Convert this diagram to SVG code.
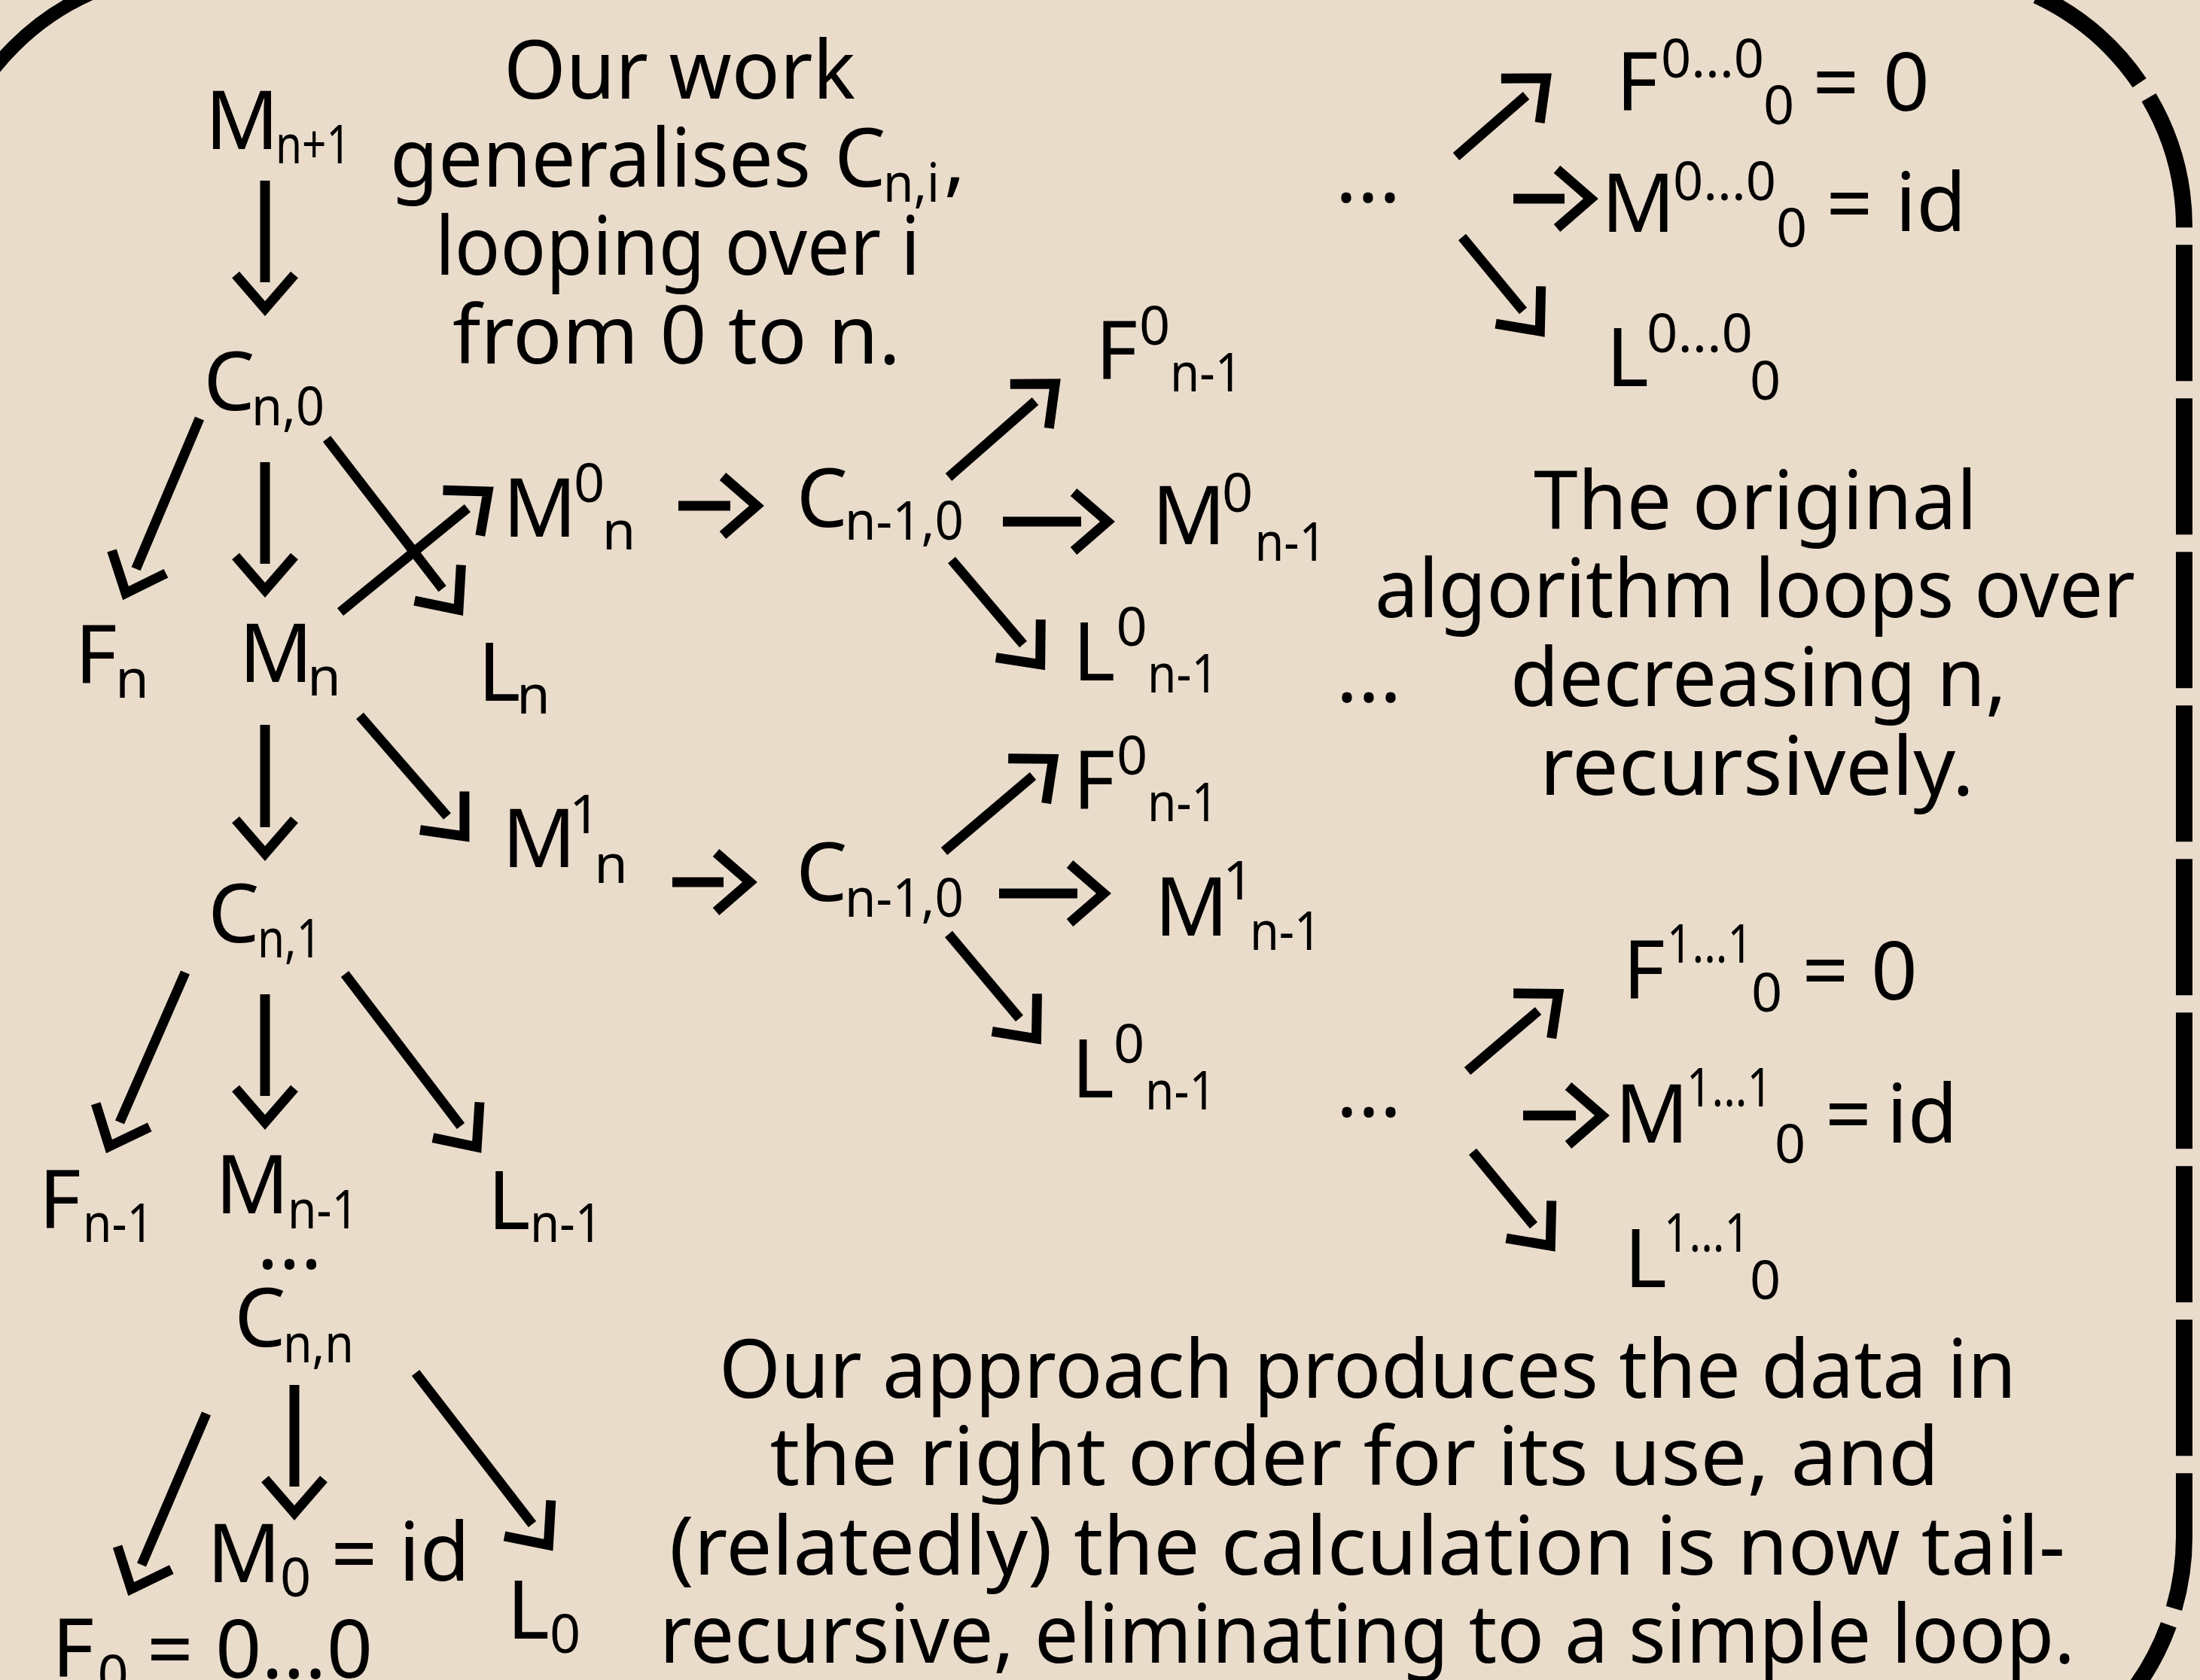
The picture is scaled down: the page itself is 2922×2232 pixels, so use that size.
<svg xmlns="http://www.w3.org/2000/svg" width="2922" height="2232" viewBox="0 0 2922 2232">
<style>
text{font-family:'Noto Sans',sans-serif;fill:#000;text-anchor:middle}
.b{font-size:108px}
.s{font-size:72px}
#connectors line{stroke:#000;stroke-width:13;fill:none;marker-end:url(#ah)}
.fr{fill:none;stroke:#000}
</style>
<defs>
<marker id="ah" markerUnits="userSpaceOnUse" viewBox="-60 -60 120 120" markerWidth="120" markerHeight="120" refX="0" refY="0" orient="auto" style="overflow:visible">
<path d="M-10,-39 L35,0 L-10,39" fill="none" stroke="#000" stroke-width="13"/>
</marker>
</defs>
<rect x="0" y="0" width="2922" height="2232" fill="#EADCCB"/>
<g id="frame">
<path class="fr" stroke-width="18" d="M-81,302 A340,340 0 0 1 259,-38"/>
<path class="fr" stroke-width="22" stroke-dasharray="181 23" stroke-dashoffset="55" d="M2561,-38 A340,340 0 0 1 2901,302 L2901,2042 A340,340 0 0 1 2561,2382"/>
</g>
<g id="connectors">
<line x1="352" y1="240" x2="352" y2="375"/>
<line x1="265" y1="556" x2="180.6" y2="755.8"/>
<line x1="352" y1="614" x2="352" y2="749"/>
<line x1="434" y1="583" x2="587.6" y2="782.3"/>
<line x1="452" y1="813" x2="620.9" y2="675.1"/>
<line x1="352" y1="963" x2="352" y2="1099"/>
<line x1="478" y1="951" x2="594" y2="1084.6"/>
<line x1="246" y1="1292" x2="159" y2="1491"/>
<line x1="352" y1="1321" x2="352" y2="1456"/>
<line x1="458" y1="1294" x2="612" y2="1496"/>
<line x1="274" y1="1878" x2="188" y2="2079"/>
<line x1="391" y1="1840" x2="391" y2="1975"/>
<line x1="552" y1="1824" x2="707" y2="2025"/>
<line x1="901" y1="672" x2="970" y2="672"/>
<line x1="1332" y1="693" x2="1436" y2="693"/>
<line x1="1260" y1="634" x2="1375" y2="533"/>
<line x1="1264" y1="744" x2="1359" y2="856"/>
<line x1="893" y1="1172" x2="961" y2="1172"/>
<line x1="1327" y1="1187" x2="1431" y2="1187"/>
<line x1="1254" y1="1131" x2="1372" y2="1031"/>
<line x1="1260" y1="1241" x2="1354" y2="1353"/>
<line x1="1934" y1="208" x2="2027" y2="127"/>
<line x1="2010" y1="264" x2="2078" y2="264"/>
<line x1="1942" y1="315" x2="2023" y2="413"/>
<line x1="1949" y1="1423" x2="2043" y2="1343"/>
<line x1="2023" y1="1482" x2="2093" y2="1482"/>
<line x1="1956" y1="1530" x2="2037" y2="1628"/>
</g>
<g id="note-ourwork">
<text class="b" x="902.5" y="131" textLength="467" lengthAdjust="spacingAndGlyphs">Our work</text>
<text class="b" x="797.5" y="248" textLength="559" lengthAdjust="spacingAndGlyphs">generalises</text>
<text class="b" x="1142.5" y="248">C</text>
<text class="s" x="1210.5" y="268" textLength="75" lengthAdjust="spacingAndGlyphs">n,i</text>
<text class="b" x="1268" y="248">,</text>
<text class="b" x="900" y="365" textLength="644" lengthAdjust="spacingAndGlyphs">looping over i</text>
<text class="b" x="898.5" y="483" textLength="595" lengthAdjust="spacingAndGlyphs">from 0 to n.</text>
</g>
<g id="note-original">
<text class="b" x="2331.5" y="703" textLength="589" lengthAdjust="spacingAndGlyphs">The original</text>
<text class="b" x="2331" y="820" textLength="1010" lengthAdjust="spacingAndGlyphs">algorithm loops over</text>
<text class="b" x="2335.5" y="938" textLength="659" lengthAdjust="spacingAndGlyphs">decreasing n,</text>
<text class="b" x="2333.5" y="1056" textLength="577" lengthAdjust="spacingAndGlyphs">recursively.</text>
</g>
<g id="note-approach">
<text class="b" x="1816.5" y="1857" textLength="1723" lengthAdjust="spacingAndGlyphs">Our approach produces the data in</text>
<text class="b" x="1799" y="1973" textLength="1553" lengthAdjust="spacingAndGlyphs">the right order for its use, and</text>
<text class="b" x="1816" y="2092" textLength="1854" lengthAdjust="spacingAndGlyphs">(relatedly) the calculation is now tail-</text>
<text class="b" x="1816" y="2209" textLength="1880" lengthAdjust="spacingAndGlyphs">recursive, eliminating to a simple loop.</text>
</g>
<g id="node-Mn1"><text class="b" x="321.5" y="198">M</text><text class="s" x="416" y="217" textLength="100" lengthAdjust="spacingAndGlyphs">n+1</text></g>
<g id="node-Cn0"><text class="b" x="304.5" y="545">C</text><text class="s" x="382.5" y="565" textLength="97" lengthAdjust="spacingAndGlyphs">n,0</text></g>
<g id="node-Fn"><text class="b" x="127.5" y="908">F</text><text class="s" x="175.5" y="927">n</text></g>
<g id="node-Mn"><text class="b" x="366.5" y="906">M</text><text class="s" x="430.5" y="924">n</text></g>
<g id="node-Ln"><text class="b" x="663" y="931">L</text><text class="s" x="708.5" y="948">n</text></g>
<g id="node-M1n"><text class="b" x="716" y="1152">M</text><text class="s" x="776.5" y="1107">1</text><text class="s" x="811.5" y="1173">n</text></g>
<g id="node-Cn1"><text class="b" x="310.5" y="1252">C</text><text class="s" x="384.5" y="1272" textLength="85" lengthAdjust="spacingAndGlyphs">n,1</text></g>
<g id="node-Fn-1"><text class="b" x="79.5" y="1632">F</text><text class="s" x="157" y="1650" textLength="94" lengthAdjust="spacingAndGlyphs">n-1</text></g>
<g id="node-Mn-1"><text class="b" x="335" y="1612">M</text><text class="s" x="429" y="1632" textLength="94" lengthAdjust="spacingAndGlyphs">n-1</text></g>
<g id="node-Ln-1"><text class="b" x="676" y="1633">L</text><text class="s" x="752" y="1650" textLength="96" lengthAdjust="spacingAndGlyphs">n-1</text></g>
<g id="node-dots-left"><text class="b" x="384.5" y="1685">...</text></g>
<g id="node-Cnn"><text class="b" x="345.5" y="1789">C</text><text class="s" x="423" y="1810" textLength="94" lengthAdjust="spacingAndGlyphs">n,n</text></g>
<g id="node-M0"><text class="b" x="324" y="2102">M</text><text class="s" x="392.5" y="2121">0</text><text class="b" x="470.5" y="2102">=</text><text class="b" x="577" y="2100">id</text></g>
<g id="node-L0"><text class="b" x="701.5" y="2177">L</text><text class="s" x="750.5" y="2196">0</text></g>
<g id="node-F0"><text class="b" x="97" y="2228">F</text><text class="s" x="150" y="2250">0</text><text class="b" x="226" y="2229">=</text><text class="b" x="390.5" y="2229" textLength="209" lengthAdjust="spacingAndGlyphs">0...0</text></g>
<g id="node-M0n"><text class="b" x="717" y="713">M</text><text class="s" x="782.5" y="667">0</text><text class="s" x="822" y="730">n</text></g>
<g id="node-Cn-10-a"><text class="b" x="1092" y="700">C</text><text class="s" x="1201" y="717" textLength="158" lengthAdjust="spacingAndGlyphs">n-1,0</text></g>
<g id="node-M0n-1"><text class="b" x="1579" y="723">M</text><text class="s" x="1643.5" y="680">0</text><text class="s" x="1714" y="745" textLength="95" lengthAdjust="spacingAndGlyphs">n-1</text></g>
<g id="node-F0n-1-a"><text class="b" x="1483" y="504">F</text><text class="s" x="1533.5" y="458">0</text><text class="s" x="1602" y="520" textLength="96" lengthAdjust="spacingAndGlyphs">n-1</text></g>
<g id="node-L0n-1-a"><text class="b" x="1453" y="904">L</text><text class="s" x="1503" y="858">0</text><text class="s" x="1571" y="920" textLength="94" lengthAdjust="spacingAndGlyphs">n-1</text></g>
<g id="node-dots-a"><text class="b" x="1818" y="932">...</text></g>
<g id="node-Cn-10-b"><text class="b" x="1091.5" y="1197">C</text><text class="s" x="1201" y="1218" textLength="158" lengthAdjust="spacingAndGlyphs">n-1,0</text></g>
<g id="node-M1n-1"><text class="b" x="1582.5" y="1243">M</text><text class="s" x="1644.5" y="1195">1</text><text class="s" x="1707.5" y="1262" textLength="95" lengthAdjust="spacingAndGlyphs">n-1</text></g>
<g id="node-F0n-1-b"><text class="b" x="1453" y="1075">F</text><text class="s" x="1503.5" y="1029">0</text><text class="s" x="1571" y="1091" textLength="94" lengthAdjust="spacingAndGlyphs">n-1</text></g>
<g id="node-L0n-1-b"><text class="b" x="1451.5" y="1458">L</text><text class="s" x="1499.5" y="1412">0</text><text class="s" x="1568" y="1474" textLength="94" lengthAdjust="spacingAndGlyphs">n-1</text></g>
<g id="node-dots-b"><text class="b" x="1818" y="1483">...</text></g>
<g id="node-dots-r"><text class="b" x="1817" y="268">...</text></g>
<g id="node-F000"><text class="b" x="2174.5" y="147">F</text><text class="s" x="2274.5" y="103" textLength="137" lengthAdjust="spacingAndGlyphs">0...0</text><text class="s" x="2362.5" y="165">0</text><text class="b" x="2438.5" y="147">=</text><text class="b" x="2532" y="147">0</text></g>
<g id="node-M000"><text class="b" x="2176" y="308">M</text><text class="s" x="2290.5" y="266" textLength="137" lengthAdjust="spacingAndGlyphs">0...0</text><text class="s" x="2379.5" y="328">0</text><text class="b" x="2456.5" y="308">=</text><text class="b" x="2564.5" y="307">id</text></g>
<g id="node-L000"><text class="b" x="2161.5" y="513">L</text><text class="s" x="2257.5" y="468" textLength="141" lengthAdjust="spacingAndGlyphs">0...0</text><text class="s" x="2344.5" y="531">0</text></g>
<g id="node-F111"><text class="b" x="2183.5" y="1327">F</text><text class="s" x="2271" y="1279" textLength="114" lengthAdjust="spacingAndGlyphs">1...1</text><text class="s" x="2346.5" y="1344">0</text><text class="b" x="2424.5" y="1327">=</text><text class="b" x="2516" y="1328">0</text></g>
<g id="node-M111"><text class="b" x="2194" y="1518">M</text><text class="s" x="2297" y="1470" textLength="114" lengthAdjust="spacingAndGlyphs">1...1</text><text class="s" x="2377.5" y="1545">0</text><text class="b" x="2455" y="1518">=</text><text class="b" x="2553" y="1518">id</text></g>
<g id="node-L111"><text class="b" x="2185.5" y="1710">L</text><text class="s" x="2267" y="1663" textLength="114" lengthAdjust="spacingAndGlyphs">1...1</text><text class="s" x="2344.5" y="1726">0</text></g>
</svg>
